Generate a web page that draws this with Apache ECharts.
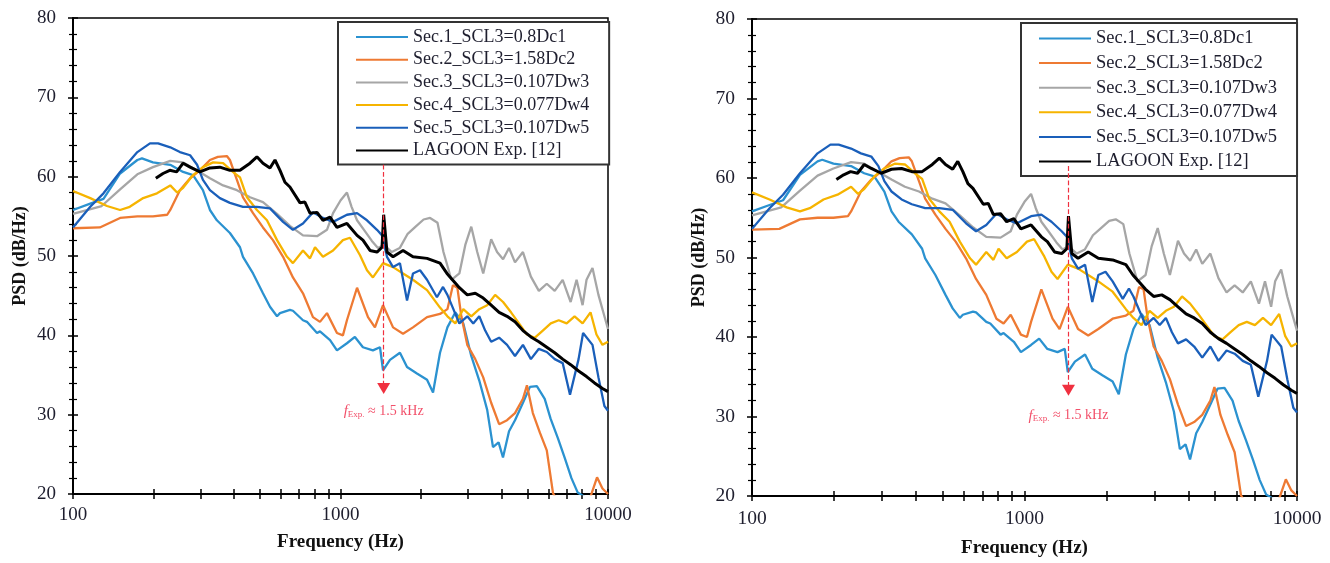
<!DOCTYPE html>
<html>
<head>
<meta charset="utf-8">
<script src="https://cdn.jsdelivr.net/npm/echarts@6/dist/echarts.min.js"></script>
<style>
  html, body { margin: 0; background: #fff; }
  #chart { width: 1330px; height: 563px; }
</style>
</head>
<body>
<div id="chart"></div>
<script>
// tick values of the log frequency axis
var freqTicks = [100, 200, 300, 400, 500, 600, 700, 800, 900,
  1000, 2000, 3000, 4000, 5000, 6000, 7000, 8000, 9000, 10000];
var freqLabels = [100, 1000, 10000];

var names = ['Sec.1_SCL3=0.8Dc1', 'Sec.2_SCL3=1.58Dc2', 'Sec.3_SCL3=0.107Dw3',
  'Sec.4_SCL3=0.077Dw4', 'Sec.5_SCL3=0.107Dw5', 'LAGOON Exp. [12]'];

// [frequency Hz, PSD dB/Hz]
var sec1 = [[100,55.8],[116,56.6],[130,57.2],[150,60.4],[174,62.1],[181,62.3],[199,61.8],[231,61.5],[258,60.6],[281,60.2],[306,58.3],[325,55.8],[345,54.5],[386,52.9],[421,51.1],[432,49.9],[471,47.8],[513,45.3],[545,43.6],[579,42.4],[594,42.8],[647,43.2],[664,43.1],[724,41.9],[749,41.7],[817,40.3],[838,40.5],[914,39.4],[970,38.1],[1057,39],[1132,39.8],[1213,38.5],[1322,38.1],[1405,38.5],[1442,35.6],[1531,36.9],[1668,37.8],[1773,36],[1931,35.2],[2106,34.4],[2218,32.8],[2355,37.8],[2510,41],[2688,42.9],[2878,41.5],[3082,37.4],[3302,34.3],[3535,30.6],[3716,25.9],[3900,26.5],[4050,24.6],[4266,27.9],[4491,29.3],[4809,31.5],[5108,33.5],[5420,33.6],[5800,32],[6100,29.5],[6500,27],[6900,24.5],[7300,22],[7700,20.2],[8300,19.5],[9000,19],[10000,18.5]];

var sec2 = [[100,53.5],[126,53.6],[150,54.8],[174,55],[199,55],[225,55.2],[231,55.8],[251,58.3],[274,59.8],[298,60.8],[325,62.1],[348,62.5],[376,62.6],[386,62.1],[410,59.6],[432,57.4],[471,55.4],[513,53.6],[559,52],[610,49.9],[664,47.3],[724,45.3],[789,42.3],[838,41.7],[890,42.8],[970,40.3],[1021,40],[1057,41.9],[1153,46],[1267,42.3],[1345,41],[1442,43.8],[1572,41],[1713,40.2],[1866,41],[2106,42.3],[2355,42.7],[2510,43.3],[2632,46.3],[2735,46],[2830,42.4],[2978,38.8],[3190,37],[3416,34.7],[3658,31.5],[3917,28.8],[4194,29.3],[4491,30.2],[4809,32],[4977,33.7],[5237,30.2],[5568,27.7],[5904,25.5],[6229,20.1],[6500,19],[8570,19.5],[9100,22.1],[9534,20.7],[10000,20]];

var sec3 = [[100,55.3],[128,56.3],[150,58.4],[174,60.3],[199,61.2],[231,62],[258,61.8],[290,60.8],[325,59.8],[364,58.9],[410,58.3],[459,57.4],[513,56.8],[579,55.3],[647,53.8],[724,52.6],[817,52.5],[890,53.3],[938,55.4],[1000,57],[1057,58],[1100,56.2],[1153,54.5],[1224,53.3],[1310,51.9],[1380,51],[1452,51.4],[1555,50.5],[1665,51],[1783,52.8],[1909,53.7],[2045,54.6],[2162,54.8],[2305,54.2],[2426,50.5],[2598,47],[2782,47.8],[2928,51.4],[3082,53.7],[3245,50.5],[3416,47.8],[3658,52.1],[3849,50.5],[4053,49.6],[4266,51],[4491,49.2],[4809,50.5],[5149,47.4],[5515,45.6],[5904,46.5],[6321,45.6],[6770,47],[7250,44.2],[7630,47],[8035,43.8],[8313,47],[8750,48.5],[9211,45.1],[9696,42.4],[10000,40.8]];

var sec4 = [[100,58.2],[116,57.3],[134,56.3],[150,55.8],[163,56.2],[183,57.3],[206,57.9],[231,58.9],[245,58],[258,58.6],[281,60.2],[306,61.2],[334,61.8],[364,61.7],[396,60.6],[421,59.9],[447,57.4],[487,55.8],[531,54.5],[579,52],[631,49.9],[664,49.1],[724,50.7],[769,49.7],[803,51.1],[860,49.9],[938,50.7],[1021,52],[1085,52.3],[1183,50.1],[1256,48.2],[1322,47.3],[1442,49.1],[1572,48.6],[1713,47.8],[1866,47],[2106,45.7],[2355,43.5],[2510,42.4],[2688,41.5],[2878,43.3],[3082,42.4],[3302,43.3],[3535,43.8],[3785,45.1],[4053,44.2],[4340,42.9],[4648,41.5],[4977,40.1],[5330,39.7],[5705,40.6],[6110,41.5],[6543,41.9],[7006,41.5],[7500,42.4],[8035,41.5],[8603,42.9],[9055,40.1],[9534,38.8],[10000,39.2]];

var sec5 = [[100,53.6],[116,56.2],[130,57.9],[150,60.6],[174,63.1],[194,64.2],[208,64.2],[231,63.7],[251,63.1],[274,62.7],[291,61.5],[306,59.6],[325,58.3],[354,57.3],[386,56.7],[432,56.2],[487,56.2],[545,56],[610,54.3],[664,53.3],[724,54.1],[789,55.5],[860,54.8],[938,54.3],[1057,55.2],[1153,55.4],[1256,54.5],[1369,53.3],[1430,52.6],[1492,49.9],[1572,48.6],[1668,49.1],[1773,44.4],[1866,47.8],[1983,48.2],[2106,47],[2294,44.8],[2417,46.1],[2510,45.1],[2642,43.3],[2782,41.5],[2978,42.4],[3135,41.5],[3302,42.4],[3475,40.6],[3658,39.2],[3917,39.7],[4194,38.8],[4491,37.4],[4809,38.8],[5149,37],[5515,38.3],[5904,37.9],[6321,37],[6770,36.5],[7210,32.5],[7763,37],[8070,40.3],[8750,38.8],[9211,34.7],[9696,31.1],[10000,30.5]];

var lagoon = [[204,59.8],[217,60.4],[230,60.8],[244,60.6],[258,61.7],[274,61.2],[298,60.6],[325,61.1],[354,61.2],[386,60.8],[421,60.8],[459,61.7],[487,62.5],[513,61.7],[545,61.1],[569,62.1],[594,60.8],[620,59.3],[647,58.7],[706,56.7],[736,56.8],[769,55.4],[817,55.5],[860,54.5],[914,54.9],[970,53.6],[1057,54.1],[1153,52.6],[1213,52],[1289,50.7],[1369,50.5],[1430,51.1],[1450,55.2],[1492,50.5],[1572,49.9],[1713,50.7],[1866,49.9],[2106,49.7],[2355,49.1],[2500,47.8],[2782,46],[2978,45.1],[3190,45.3],[3416,44.7],[3658,43.8],[3917,42.9],[4194,42.4],[4491,41.7],[4809,40.6],[5149,39.8],[5515,39.2],[5904,38.5],[6321,37.8],[6770,37],[7250,36.3],[7763,35.5],[8313,34.8],[8903,34],[9534,33.3],[10000,32.9]];

var seriesData = [sec1, sec2, sec3, sec4, sec5, lagoon];
var colors = ['#2B92D0', '#EE7A33', '#A6A6A6', '#F6B400', '#1A5FBA', '#000000'];
var widths = [2.3, 2.3, 2.3, 2.3, 2.3, 3];

var serif = '"Liberation Serif", "Times New Roman", serif';
var ink = '#1e1e2e';

var panels = [
  { grid: { left: 73, top: 18, width: 535, height: 476 }, legendPos: { left: 338, top: 22 },
    font: 19, legendFont: 18, itemGap: 4.7, labelMargin: 12, nameGapX: 39, textY: 30.4 },
  { grid: { left: 752, top: 19, width: 545, height: 482 }, legendPos: { left: 1021, top: 23 },
    font: 19.5, legendFont: 18.5, itemGap: 5.6, labelMargin: 13, nameGapX: 43, textY: 30.1 }
];

var grids = [], xAxes = [], yAxes = [], legends = [], series = [];

panels.forEach(function (p, i) {
  grids.push(Object.assign({ show: true, borderColor: '#000', borderWidth: 1.5 }, p.grid));

  var tickLine = { color: '#000', width: 1.5 };
  // main x axis (outer ticks, labels) + twin for inner ticks
  xAxes.push({
    gridIndex: i, type: 'log', logBase: 10, min: 100, max: 10000, position: 'bottom',
    axisLine: { lineStyle: { color: '#000', width: 2 } },
    axisTick: { customValues: freqTicks, length: 5, lineStyle: tickLine },
    axisLabel: { customValues: freqLabels, formatter: function (v) { return String(Math.round(v)); },
      fontFamily: serif, fontSize: p.font, color: ink, margin: p.labelMargin },
    splitLine: { show: false },
    name: 'Frequency (Hz)', nameLocation: 'middle', nameGap: p.nameGapX,
    nameTextStyle: { fontFamily: serif, fontWeight: 'bold', fontSize: 19, color: '#111' }
  });
  xAxes.push({
    gridIndex: i, type: 'log', logBase: 10, min: 100, max: 10000, position: 'bottom',
    axisLine: { show: false },
    axisTick: { customValues: freqTicks, inside: true, length: 5, lineStyle: tickLine },
    axisLabel: { show: false }, splitLine: { show: false }
  });

  yAxes.push({
    gridIndex: i, type: 'value', min: 20, max: 80, interval: 10, position: 'left',
    axisLine: { show: true, lineStyle: { color: '#000', width: 2 } },
    axisTick: { show: true, length: 5, lineStyle: tickLine },
    minorTick: { show: true, splitNumber: 5, length: 4, lineStyle: { color: '#000', width: 1.2 } },
    axisLabel: { fontFamily: serif, fontSize: p.font, color: ink, margin: 17 },
    splitLine: { show: false },
    name: 'PSD (dB/Hz)', nameLocation: 'middle', nameGap: 44,
    nameTextStyle: { fontFamily: serif, fontWeight: 'bold', fontSize: 18, color: '#111' }
  });
  yAxes.push({
    gridIndex: i, type: 'value', min: 20, max: 80, interval: 10, position: 'left',
    axisLine: { show: false },
    axisTick: { show: true, inside: true, length: 5, lineStyle: tickLine },
    minorTick: { show: true, splitNumber: 5, length: 4, lineStyle: { color: '#000', width: 1.2 } },
    axisLabel: { show: false }, splitLine: { show: false }
  });

  legends.push(Object.assign({
    data: names, orient: 'vertical', itemWidth: 52, itemHeight: 12, itemGap: p.itemGap,
    padding: [6, 20, 5, 17], backgroundColor: '#fff', borderColor: '#333', borderWidth: 2,
    itemStyle: { opacity: 0 },
    textStyle: { fontFamily: serif, fontSize: p.legendFont, color: ink, lineHeight: 18 },
    selectedMode: false
  }, p.legendPos));

  seriesData.forEach(function (d, k) {
    series.push({
      type: 'line', name: names[k], xAxisIndex: 2 * i, yAxisIndex: 2 * i, data: d,
      symbol: 'none', showSymbol: false, animation: false,
      lineStyle: { color: colors[k], width: widths[k] }, itemStyle: { color: colors[k] }
    });
  });

  // f_Exp. arrow and label
  series.push({
    type: 'line', xAxisIndex: 2 * i, yAxisIndex: 2 * i, data: [], animation: false,
    markLine: {
      silent: true, symbol: ['none', 'triangle'], symbolSize: [13, 11],
      lineStyle: { color: '#F0303F', type: 'dashed', width: 1.2 }, label: { show: false },
      data: [[{ coord: [1450, 61.5] }, { coord: [1450, 33.3] }]]
    },
    markPoint: {
      silent: true, symbol: 'circle', symbolSize: 1, itemStyle: { color: 'rgba(0,0,0,0)' },
      label: {
        show: true, position: 'inside', color: '#F2506A', fontFamily: serif,
        formatter: '{f|f}{s|Exp.}{t| \u2248 1.5 kHz}',
        rich: {
          f: { fontFamily: serif, fontStyle: 'italic', fontSize: 15, color: '#F2506A' },
          s: { fontFamily: serif, fontSize: 9, color: '#F2506A', padding: [6, 0, 0, 0] },
          t: { fontFamily: serif, fontSize: 14, color: '#F2506A' }
        }
      },
      data: [{ coord: [1450, p.textY] }]
    }
  });
});

var myChart = echarts.init(document.getElementById('chart'));
myChart.setOption({
  animation: false,
  backgroundColor: '#fff',
  grid: grids,
  xAxis: xAxes,
  yAxis: yAxes,
  legend: legends,
  series: series
});
</script>
</body>
</html>
